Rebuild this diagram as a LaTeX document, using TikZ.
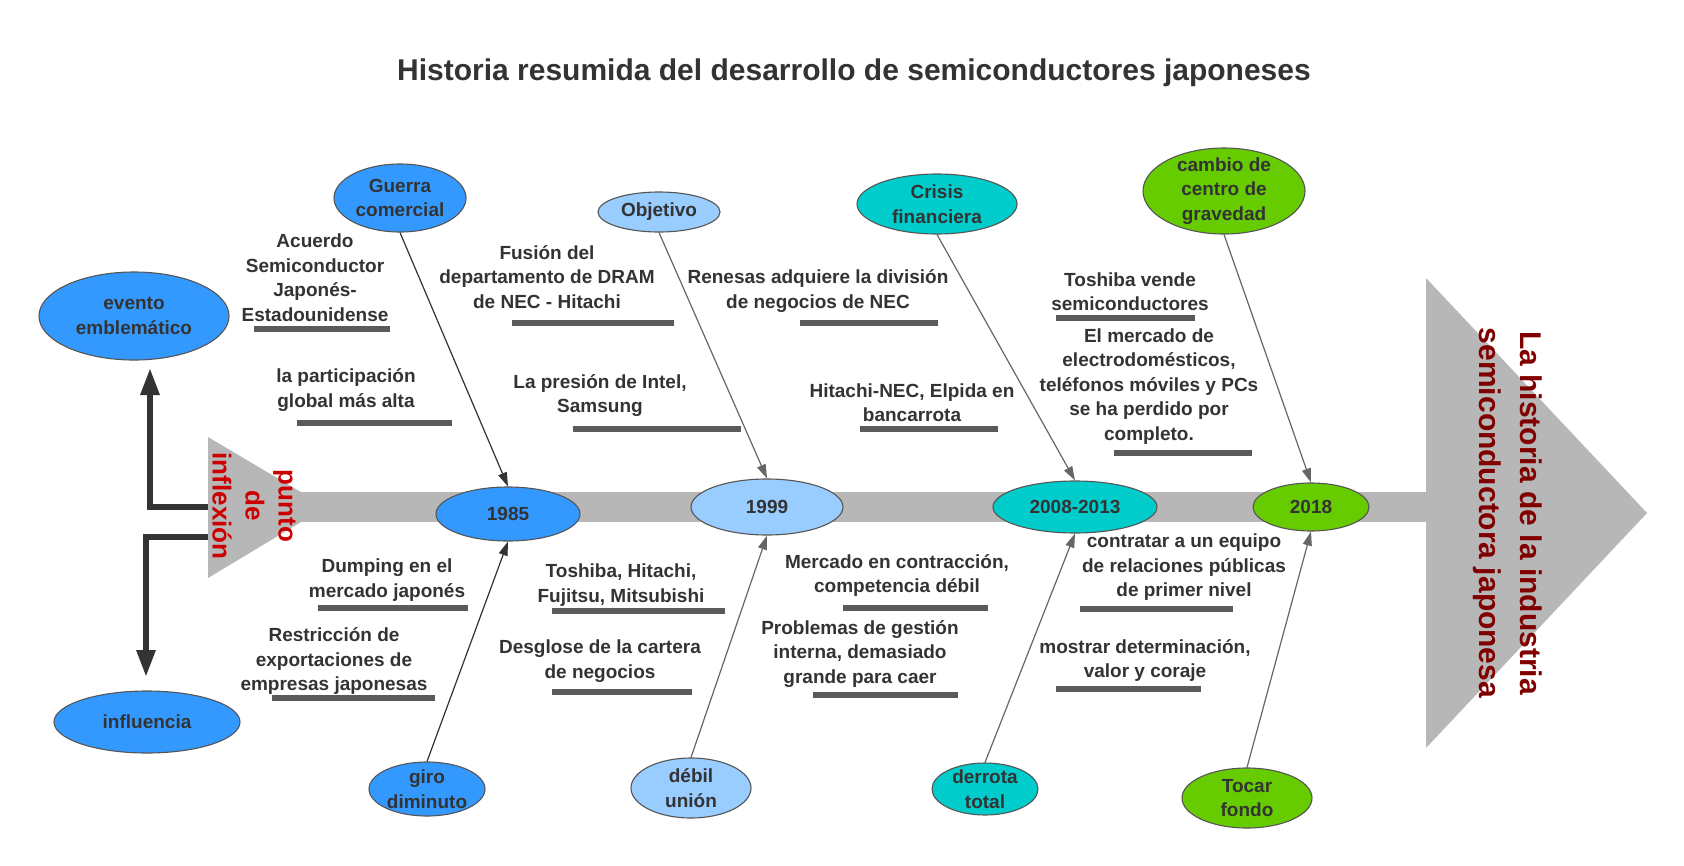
\documentclass[tikz,border=0pt]{standalone}
\usepackage{fontspec}
\setmainfont{Liberation Sans}
\usetikzlibrary{arrows.meta,shapes.geometric}
\definecolor{cblue}{HTML}{3399FF}
\definecolor{clight}{HTML}{99CCFF}
\definecolor{cteal}{HTML}{00CCCC}
\definecolor{cgreen}{HTML}{66CC00}
\definecolor{spinegray}{HTML}{B7B7B7}
\definecolor{txt}{HTML}{333333}
\definecolor{uline}{HTML}{5A5A5A}
\definecolor{redtxt}{HTML}{CC0000}
\definecolor{maroontxt}{HTML}{800000}
\definecolor{edgec}{HTML}{555555}
\definecolor{arrc}{HTML}{666666}
\definecolor{arrd}{HTML}{333333}
\begin{document}
\begin{tikzpicture}[x=1pt,y=-1pt,
  lbl/.style={font=\fontsize{19}{24.5}\selectfont\bfseries, text=txt, align=center, inner sep=0pt},
  ell/.style={ellipse, draw=edgec, line width=1.1pt, inner sep=0pt},
  ul/.style={line width=6pt, draw=uline},
  con/.style={line width=1.2pt, draw=arrc, -{Triangle[length=14pt,width=9pt]}},
  cond/.style={line width=1.2pt, draw=arrd, -{Triangle[length=14pt,width=9pt]}},
  thickcon/.style={line width=6pt, draw=arrd, -{Triangle[length=27pt,width=18pt]}}
]
\useasboundingbox (0,0) rectangle (1684,865);
\fill[white] (0,0) rectangle (1684,865);

% title
\node[font=\fontsize{30}{36}\selectfont\bfseries, text=txt] (title) at (854,73) {Historia resumida del desarrollo de semiconductores japoneses};

% spine and heads
\fill[spinegray] (300,492) rectangle (1430,522);
\fill[spinegray] (208,437) -- (326,507) -- (208,578) -- cycle;
\fill[spinegray] (1426,278) -- (1647,513) -- (1426,748) -- cycle;

\node[font=\fontsize{26}{33}\selectfont\bfseries, text=redtxt, rotate=-90, align=center, inner sep=0pt] (punto) at (254,506) {punto\\de\\inflexión};
\node[font=\fontsize{30}{41}\selectfont\bfseries, text=maroontxt, rotate=-90, align=center, inner sep=0pt] (bigtxt) at (1508,513) {La historia de la industria\\semiconductora japonesa};

% ellipses
\node[ell, fill=cblue, minimum width=190pt, minimum height=88pt, label={[lbl]center:evento\\emblemático}] (evento) at (134,316) {};
\node[ell, fill=cblue, minimum width=186pt, minimum height=62pt, label={[lbl]center:influencia}] (influencia) at (147,722) {};
\node[ell, fill=cblue, minimum width=132pt, minimum height=68pt, label={[lbl]center:Guerra\\comercial}] (guerra) at (400,198) {};
\node[ell, fill=clight, minimum width=122pt, minimum height=40pt, label={[lbl]center:Objetivo}] (objetivo) at (659,212) {};
\node[ell, fill=cteal, minimum width=160pt, minimum height=60pt, label={[lbl]center:Crisis\\financiera}] (crisis) at (937,204) {};
\node[ell, fill=cgreen, minimum width=162pt, minimum height=86pt, label={[lbl]center:cambio de\\centro de\\gravedad}] (cambio) at (1224,191) {};
\node[ell, fill=cblue, minimum width=144pt, minimum height=54pt, label={[lbl]center:1985}] (y1985) at (508,514) {};
\node[ell, fill=clight, minimum width=152pt, minimum height=56pt, label={[lbl]center:1999}] (y1999) at (767,507) {};
\node[ell, fill=cteal, minimum width=164pt, minimum height=52pt, label={[lbl]center:2008-2013}] (y2008) at (1075,507) {};
\node[ell, fill=cgreen, minimum width=116pt, minimum height=48pt, label={[lbl]center:2018}] (y2018) at (1311,507) {};
\node[ell, fill=cblue, minimum width=116pt, minimum height=54pt, label={[lbl]center:giro\\diminuto}] (giro) at (427,789) {};
\node[ell, fill=clight, minimum width=120pt, minimum height=60pt, label={[lbl]center:débil\\unión}] (debil) at (691,788) {};
\node[ell, fill=cteal, minimum width=106pt, minimum height=52pt, label={[lbl]center:derrota\\total}] (derrota) at (985,789) {};
\node[ell, fill=cgreen, minimum width=130pt, minimum height=60pt, label={[lbl]center:Tocar\\fondo}] (tocar) at (1247,798) {};

% connectors
\draw[cond] (guerra.south) -- (y1985.north);
\draw[con] (objetivo.south) -- (y1999.north);
\draw[con] (crisis.south) -- (y2008.north);
\draw[con] (cambio.south) -- (y2018.north);
\draw[cond] (giro.north) -- (y1985.south);
\draw[con] (debil.north) -- (y1999.south);
\draw[con] (derrota.north) -- (y2008.south);
\draw[con] (tocar.north) -- (y2018.south);

\coordinate (tu) at (208,507);
\coordinate (tl) at (208,537);
\coordinate (evtip) at (150,368);
\coordinate (intip) at (146,677);
\draw[thickcon] (tu) -| (evtip);
\draw[thickcon] (tl) -| (intip);

% labels above spine
\node[lbl] (t1) at (315,277.5) {Acuerdo\\Semiconductor\\Japonés-\\Estadounidense};
\draw[ul] (254,329) -- (390,329);
\node[lbl] (t2) at (346,390) {la participación\\global más alta};
\draw[ul] (297,423) -- (452,423);
\node[lbl] (t3) at (547,277) {Fusión del\\departamento de DRAM\\de NEC - Hitachi};
\draw[ul] (512,323) -- (674,323);
\node[lbl] (t4) at (600,395.5) {La presión de Intel,\\Samsung};
\draw[ul] (573,429) -- (741,429);
\node[lbl] (t5) at (818,291) {Renesas adquiere la división\\de negocios de NEC};
\draw[ul] (800,323) -- (938,323);
\node[lbl] (t6) at (912,402.5) {Hitachi-NEC, Elpida en\\bancarrota};
\draw[ul] (860,429) -- (998,429);
\node[lbl] (t7) at (1130,291.5) {Toshiba vende\\semiconductores};
\draw[ul] (1056,318) -- (1195,318);
\node[lbl] (t8) at (1149,386.5) {El mercado de\\electrodomésticos,\\teléfonos móviles y PCs\\se ha perdido por\\completo.};
\draw[ul] (1114,453) -- (1252,453);

% labels below spine
\node[lbl] (b1) at (387,580) {Dumping en el\\mercado japonés};
\draw[ul] (318,608) -- (468,608);
\node[lbl] (b2) at (334,661) {Restricción de\\exportaciones de\\empresas japonesas};
\draw[ul] (272,698) -- (435,698);
\node[lbl] (b3) at (621,585) {Toshiba, Hitachi,\\Fujitsu, Mitsubishi};
\draw[ul] (552,611) -- (725,611);
\node[lbl] (b4) at (600,661) {Desglose de la cartera\\de negocios};
\draw[ul] (552,692) -- (692,692);
\node[lbl] (b5) at (897,575.5) {Mercado en contracción,\\competencia débil};
\draw[ul] (843,608) -- (988,608);
\node[lbl] (b6) at (860,654) {Problemas de gestión\\interna, demasiado\\grande para caer};
\draw[ul] (813,695) -- (958,695);
\node[lbl] (b7) at (1184,567.5) {contratar a un equipo\\de relaciones públicas\\de primer nivel};
\draw[ul] (1080,609) -- (1233,609);
\node[lbl] (b8) at (1145,660.5) {mostrar determinación,\\valor y coraje};
\draw[ul] (1056,689) -- (1201,689);
\end{tikzpicture}
\end{document}
